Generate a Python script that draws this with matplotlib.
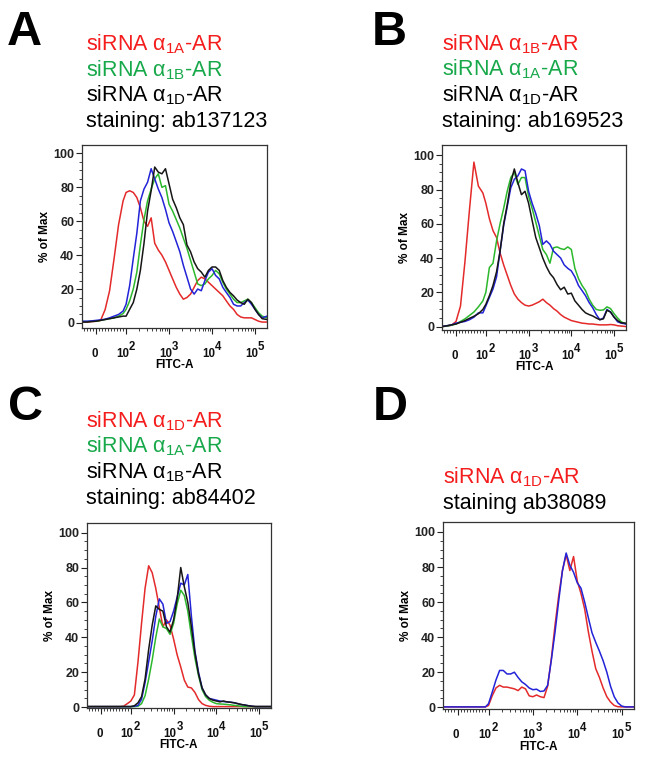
import matplotlib
matplotlib.use('Agg')
import matplotlib.pyplot as plt

plt.rcParams['font.family'] = ['Liberation Sans', 'DejaVu Sans']
plt.rcParams['mathtext.fontset'] = 'custom'
plt.rcParams['mathtext.rm'] = 'Liberation Sans'
plt.rcParams['mathtext.it'] = 'Liberation Sans:italic'
plt.rcParams['mathtext.bf'] = 'Liberation Sans:bold'
plt.rcParams['mathtext.default'] = 'regular'

# FITC-A channel values (x grid shared by all histograms)
FITC = [-47, -30, -15, 0, 15, 30, 45, 60, 75, 90,
        100, 121, 147, 178, 215, 261, 316, 383, 464, 562, 681, 825,
        1000, 1210, 1470, 1780, 2150, 2610, 3160, 3830, 4640, 5620, 6810, 8250,
        10000, 12100, 14700, 17800, 21500, 26100, 31600, 38300, 46400, 56200, 68100, 82500,
        100000, 121000, 147000, 190000]

# panel A, % of max
A_RED = [0.5, 0.5, 0.8, 1, 1.5, 7.8, 19, 38, 58, 72,
         77, 78, 77, 74, 68, 60, 57, 62, 47, 43, 40, 36,
         31, 26, 21, 17, 14, 15, 17, 21, 25, 27, 26, 24,
         22, 20, 18, 16, 13, 10, 8, 5, 3.5, 3, 3, 3,
         2, 1, 0.5, 0.5]
A_GREEN = [0.8, 0.8, 1, 1, 1.5, 2, 2.5, 3, 4, 5.5,
           8, 13, 20, 30, 46, 61, 72, 79, 85, 88, 80, 81,
           70, 66, 61, 56, 50, 44, 37, 30, 23, 22, 23, 26,
           28, 31, 29, 24, 20, 17, 14, 12, 12, 13, 14, 12,
           9, 6, 4, 3]
A_BLUE = [1, 1, 1.2, 1.5, 1.8, 2.2, 3, 4, 5, 7,
          11, 22, 38, 53, 72, 79, 83, 91, 85, 79, 74, 67,
          59, 54, 48, 42, 34, 27, 20, 17, 20, 19, 25, 30,
          32, 28, 26, 21, 18, 15, 11, 10, 10, 12, 13.5, 11,
          8, 5, 3, 4]
A_BLACK = [0.5, 0.5, 0.8, 1, 1.5, 2, 2.5, 3, 3.5, 4,
           4, 8, 12, 20, 31, 47, 66, 78, 92, 89, 88, 91,
           82, 73, 68, 62, 58, 46, 42, 36, 32, 30, 27, 31,
           33, 33, 31, 25, 21, 18, 16, 13.5, 12, 11, 14, 12,
           8, 5, 2.5, 2]

# panel B
B_RED = [0, 0.3, 0.8, 3, 12, 38, 68, 96, 82, 78,
         72, 63, 56, 52, 43, 36, 30, 24, 19, 16, 14, 12.5,
         12, 12.5, 13.5, 14.5, 16, 14, 12.5, 10.5, 9, 7, 5.5, 4.5,
         3.5, 3, 2.5, 2, 1.8, 1.5, 1.5, 1.2, 1, 1, 1, 1.2,
         1, 0.5, 0.3, 0]
B_GREEN = [0, 0.3, 0.8, 1.5, 3, 4.5, 6.5, 8.5, 11.5, 15,
           20, 34.5, 37, 50, 60, 69, 79, 87, 90, 83, 87, 87,
           76, 69, 61, 53, 45, 42, 37, 46, 46.5, 45.5, 45, 46.5,
           45, 34, 28, 24, 21, 16, 12.5, 10, 9.5, 9.7, 11.5, 10.5,
           7.5, 5, 2.8, 1.5]
B_BLUE = [0, 0.5, 1, 2, 2.5, 3, 4, 5.5, 8, 8,
          12, 17, 22, 29, 44, 59, 70, 81, 86, 88, 92, 91,
          79, 72, 66, 59, 48, 50, 48, 44, 42, 40, 36, 34,
          32.5, 29, 24, 21, 18, 14, 11, 7, 4, 5, 10, 8.5,
          5.5, 2.8, 2, 1.5]
B_BLACK = [0, 0.5, 1, 1.5, 2.5, 3.5, 4.8, 6, 7.5, 10,
           13, 18, 24, 32, 44, 60, 71, 84, 92, 84, 77, 79,
           72, 62, 52, 46, 40, 35, 31, 28.5, 24.5, 21.5, 23, 19,
           19.5, 15, 12.5, 10, 8, 7, 6.2, 5, 4, 4.5, 9.5, 8.5,
           5.5, 3.5, 2.2, 2]

# panel C
C_RED = [0.3, 0.3, 0.3, 0.3, 0.3, 0.3, 0.3, 0.3, 0.5, 2.2,
         3.5, 7, 26, 48, 68, 81, 77, 68, 57, 46, 50, 47,
         39, 30, 23, 15.5, 11.5, 11, 8.4, 4.3, 2, 1, 0.5, 0.3,
         0.3, 0.3, 0.3, 0.3, 0.3, 0.3, 0.3, 0.3, 0.3, 0.3, 0.3, 0.3,
         0.3, 0.3, 0.3, 0.3]
C_GREEN = [0.3, 0.3, 0.3, 0.3, 0.3, 0.3, 0.3, 0.3, 0.3, 0.3,
           0.3, 0.3, 0.5, 2, 6.5, 16, 27, 40, 50.5, 46, 45, 41.7,
           48, 59, 67, 64, 55, 41, 28, 18, 10, 6, 4, 2.8,
           2, 1.8, 1.7, 1.5, 1.3, 1, 0.8, 0.5, 0.3, 0.3, 0.3, 0.3,
           0.3, 0.3, 0.3, 0.3]
C_BLUE = [0.3, 0.3, 0.3, 0.3, 0.3, 0.3, 0.3, 0.3, 0.3, 0.3,
          0.3, 0.5, 1, 4.5, 14, 26, 38, 52, 62, 59, 48, 49,
          55, 63, 71, 70, 76, 52, 32, 20, 11, 7, 5, 4.5,
          4, 3.5, 3.2, 3, 2.8, 2.5, 2, 1.5, 1.2, 0.8, 0.5, 0.3,
          0.3, 0.3, 0.3, 0.3]
C_BLACK = [0.3, 0.3, 0.3, 0.3, 0.3, 0.3, 0.3, 0.3, 0.3, 0.3,
           0.3, 0.8, 2.5, 6, 16, 33, 47, 58, 56, 55, 46, 43,
           50, 62, 80, 69, 60, 46, 31, 19, 11, 7, 5, 4,
           3.5, 3, 3.5, 3, 2.8, 2.5, 2, 1.5, 1.2, 0.8, 0.5, 0.3,
           0.3, 0.3, 0.3, 0.3]

# panel D
D_RED = [0.2, 0.2, 0.2, 0.2, 0.2, 0.2, 0.2, 0.2, 0.2, 0.2,
         1, 6.5, 11, 12.5, 11.5, 11.5, 11, 10.5, 9.5, 11.5, 10.5, 6.5,
         6, 7, 6, 5.5, 12, 28, 47, 64, 78, 87, 78, 86,
         72, 65, 56, 43, 32, 22, 17, 11, 6, 3, 1, 0.3,
         0.2, 0.2, 0.2, 0.2]
D_BLUE = [0.2, 0.2, 0.2, 0.2, 0.2, 0.2, 0.2, 0.2, 0.2, 0.2,
          2, 8.5, 15.5, 21, 21, 19, 19, 20, 17, 14.5, 13, 11,
          10, 10.3, 9, 9.3, 12.5, 27, 43, 61, 78, 88, 81, 77,
          71, 68, 60, 51, 42.5, 37, 32, 26.5, 20, 12, 6, 2.5,
          0.7, 0.2, 0.2, 0.2]

X_TICKS = [0, 100, 1000, 10000, 100000]
X_TICK_BASE = ['0', '10', '10', '10', '10']
X_TICK_EXP = ['', '2', '3', '4', '5']
X_MINOR = ([-40, -30, -20, -10, 10, 20, 30, 40, 50, 60, 70, 80, 90]
           + [k * 10 ** d for d in (2, 3, 4) for k in range(2, 10)])
Y_TICKS = [0, 20, 40, 60, 80, 100]

RED, GREEN, BLUE, BLACK = '#e42a2a', '#2cb82c', '#2323d8', '#161616'
RED_TXT, GREEN_TXT = '#f41c1c', '#17a84a'

A_TITLE = [('siRNA α$_{1A}$-AR', RED_TXT), ('siRNA α$_{1B}$-AR', GREEN_TXT),
           ('siRNA α$_{1D}$-AR', 'black'), ('staining: ab137123', 'black')]
B_TITLE = [('siRNA α$_{1B}$-AR', RED_TXT), ('siRNA α$_{1A}$-AR', GREEN_TXT),
           ('siRNA α$_{1D}$-AR', 'black'), ('staining: ab169523', 'black')]
C_TITLE = [('siRNA α$_{1D}$-AR', RED_TXT), ('siRNA α$_{1A}$-AR', GREEN_TXT),
           ('siRNA α$_{1B}$-AR', 'black'), ('staining: ab84402', 'black')]
D_TITLE = [('siRNA α$_{1D}$-AR', RED_TXT), ('staining ab38089', 'black')]

W, H = 645, 760


def fig_xy(x, y):
    return x / W, 1 - y / H


def tick_text(ax, v, s, dx, dy, ha):
    ax.annotate(s, xy=(v, 0), xycoords=('data', 'axes fraction'),
                xytext=(dx, dy), textcoords='offset points',
                ha=ha, va='baseline', fontsize=8.3, fontweight='bold',
                color='#111111')


def draw_panel(fig, box, curves, ylim, title, title_pos, letter, letter_pos):
    left, top, right, bottom = box
    ax = fig.add_axes([left / W, 1 - bottom / H, (right - left) / W, (bottom - top) / H])
    for y, color in curves:
        ax.plot(FITC, y, color=color, lw=1.1)
    ax.set_xscale('symlog', linthresh=100, linscale=0.628)
    ax.set_xlim(-47, 190000)
    ax.set_ylim(*ylim)

    ax.set_xticks(X_TICKS)
    ax.set_xticklabels([])
    ax.set_xticks(X_MINOR, minor=True)
    ax.set_yticks(Y_TICKS)
    ax.set_yticklabels([str(v) for v in Y_TICKS], fontweight='bold')
    ax.set_yticks(list(range(5, 105, 5)), minor=True)
    ax.tick_params(which='major', direction='out', length=4, width=0.8,
                   labelsize=9, pad=1.5, colors='#222222')
    ax.tick_params(which='minor', direction='out', length=2.2, width=0.6,
                   colors='#222222')
    for sp in ax.spines.values():
        sp.set_color('#333333')
        sp.set_linewidth(0.9)

    # FlowJo style labels: exponent as large as the base, raised above it
    for v, base, exp in zip(X_TICKS, X_TICK_BASE, X_TICK_EXP):
        if exp:
            tick_text(ax, v, base, 2.0, -21, 'right')
            tick_text(ax, v, exp, 2.0, -15.5, 'left')
        else:
            tick_text(ax, v, base, -1, -21, 'center')
    ax.annotate('FITC-A', xy=(0.5, 0), xycoords='axes fraction',
                xytext=(0, -27), textcoords='offset points',
                ha='center', va='center', fontsize=8.5, fontweight='bold')
    ax.set_ylabel('% of Max', fontsize=8.5, fontweight='bold')
    ax.yaxis.set_label_coords(-31 / (right - left), 0.5)

    tx, ty = title_pos
    for i, (s, c) in enumerate(title):
        fig.text(*fig_xy(tx, ty + i * 25.6), s, color=c, fontsize=15.5,
                 ha='left', va='baseline')
    fig.text(*fig_xy(*letter_pos), letter, fontsize=35, fontweight='bold',
             ha='left', va='baseline')
    return ax


def main():
    fig = plt.figure(figsize=(W / 100, H / 100), dpi=100)

    draw_panel(fig, (82, 145, 267, 328),
               [(A_RED, RED), (A_GREEN, GREEN), (A_BLUE, BLUE), (A_BLACK, BLACK)],
               (-3, 105), A_TITLE, (86, 50.5), 'A', (7, 45))
    draw_panel(fig, (442, 145, 626, 330),
               [(B_RED, RED), (B_GREEN, GREEN), (B_BLUE, BLUE), (B_BLACK, BLACK)],
               (-2, 106), B_TITLE, (442, 50), 'B', (372, 45))
    draw_panel(fig, (87, 523, 271, 708),
               [(C_RED, RED), (C_GREEN, GREEN), (C_BLUE, BLUE), (C_BLACK, BLACK)],
               (-0.5, 105.5), C_TITLE, (86, 427), 'C', (8, 420))
    draw_panel(fig, (443, 522, 634, 709),
               [(D_RED, RED), (D_BLUE, BLUE)],
               (-1, 105.7), D_TITLE, (443, 483), 'D', (373, 420))

    fig.savefig('out.png', dpi=100)


if __name__ == '__main__':
    main()
